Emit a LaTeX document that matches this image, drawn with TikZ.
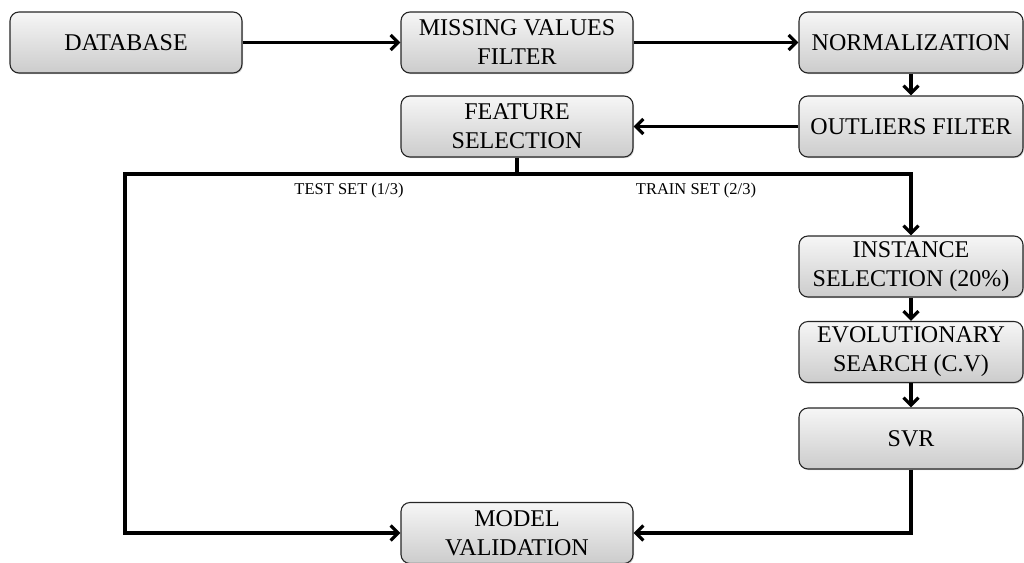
\documentclass[tikz,border=0pt]{standalone}
\usepackage{fontspec}
\setmainfont{Liberation Serif}
\usetikzlibrary{arrows.meta,shadows}
\begin{document}
\begin{tikzpicture}[x=1pt,y=-1pt,
  box/.style={draw=black!85, line width=1.1pt, rounded corners=9pt,
    top color=gray!7, bottom color=gray!40,
    drop shadow={shadow xshift=1pt,shadow yshift=-1.2pt,opacity=0.35},
    align=center, inner sep=0pt,
    font=\fontsize{24}{29}\selectfont},
  wbox/.style={box, minimum width=232pt, minimum height=61pt},
  nbox/.style={box, minimum width=224pt, minimum height=61pt},
  conn/.style={line width=3.2pt, ->, >={Straight Barb[length=7.5pt,width=15pt]}},
  lbl/.style={font=\fontsize{16.5}{19}\selectfont}
]
\useasboundingbox (0,0) rectangle (1024,562);
\node[wbox] (db) at (126,42.5) {DATABASE};
\node[wbox] (mv) at (517,42.5) {MISSING VALUES\\FILTER};
\node[nbox] (norm) at (911,42.5) {NORMALIZATION};
\node[nbox] (out) at (911,126.5) {OUTLIERS FILTER};
\node[wbox] (fs) at (517,126.5) {FEATURE\\SELECTION};
\node[nbox] (inst) at (911,266.5) {INSTANCE\\SELECTION (20\%)};
\node[nbox] (evo) at (911,352) {EVOLUTIONARY\\SEARCH (C.V)};
\node[nbox] (svr) at (911,438.5) {SVR};
\node[wbox] (mval) at (517,533) {MODEL\\VALIDATION};

\coordinate (sp) at (517,174);
\coordinate (tl) at (125,174);

\draw[conn] (db.east) -- (mv.west);
\draw[conn] (mv.east) -- (norm.west);
\draw[conn] (norm.south) -- (out.north);
\draw[conn] (out.west) -- (fs.east);
\draw[line width=3.2pt] (fs.south) -- (sp);
\draw[conn] (sp) -- (tl) |- (mval.west);
\draw[conn] (sp) -| (inst.north);
\draw[conn] (inst.south) -- (evo.north);
\draw[conn] (evo.south) -- (svr.north);
\draw[conn] (svr.south) |- (mval.east);

\node[lbl] (test) at (349,191) {TEST SET (1/3)};
\node[lbl] (train) at (696,191) {TRAIN SET (2/3)};
\end{tikzpicture}
\end{document}
